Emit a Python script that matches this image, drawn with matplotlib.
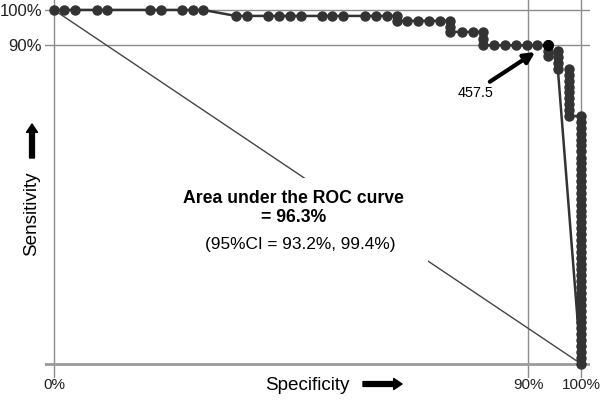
import matplotlib.pyplot as plt
from matplotlib.patches import Rectangle

plt.rcParams['font.family'] = ['Liberation Sans', 'DejaVu Sans']

# ROC curve points (specificity %, sensitivity %), upper part up to the cut-off
upper_spec = [0, 1.9, 4.0, 8.2, 10.1, 18.2, 20.3, 24.3, 26.4, 28.3,
              34.5, 36.6, 40.6, 42.7, 44.8, 46.9, 50.9, 52.8, 54.8, 59.0, 61.1, 63.2, 65.1,
              65.1, 67.0, 69.1, 71.2, 73.3, 75.1,
              75.1, 75.1, 77.4, 79.5, 81.4, 81.4, 81.4,
              83.5, 85.6, 87.7, 89.8, 91.7, 93.7]
upper_sens = [100, 100, 100, 100, 100, 100, 100, 100, 100, 100,
              98.3, 98.3, 98.3, 98.3, 98.3, 98.3, 98.3, 98.3, 98.3, 98.3, 98.3, 98.3, 98.3,
              96.9, 96.9, 96.9, 96.9, 96.9, 96.9,
              95.2, 93.8, 93.8, 93.8, 93.8, 91.9, 90.0,
              90.0, 90.0, 90.0, 90.0, 90.0, 90.0]

# steep drop near 100% specificity
drop_spec = [93.7, 93.7, 95.6, 95.6, 95.6, 95.6]
drop_sens = [88.3, 86.9, 88.3, 86.7, 85.0, 83.3]

col100_spec = 100.0
col100_sens = [0.0, 1.7, 3.3, 5.0, 6.7, 8.3, 10.0, 11.7, 13.3, 15.0, 16.7, 18.3, 20.0,
               21.7, 23.3, 25.0, 26.7, 28.3, 30.0, 31.7, 33.3, 35.0, 36.7, 38.3, 40.0,
               41.7, 43.3, 45.0, 46.7, 48.3, 50.0, 51.7, 53.3, 55.0, 56.7, 58.3, 60.0,
               61.7, 63.3, 65.0, 66.7, 68.3, 70.0]

col977_spec = 97.7
col977_sens = [70.0, 71.7, 73.3, 75.0, 76.7, 78.3, 80.0, 81.7, 83.3]

spec = upper_spec + drop_spec + [col100_spec] * len(col100_sens) + [col977_spec] * len(col977_sens)
sens = upper_sens + drop_sens + col100_sens + col977_sens

# optimal cut-off
cut_spec, cut_sens, cut_label = 93.7, 90.0, '457.5'

# reference (chance) line
diag_x = [0, 100]
diag_y = [100, 0]

xtick_vals = [0, 90, 100]
xtick_labels = ['0%', '90%', '100%']
ytick_vals = [90, 100]
ytick_labels = ['90%', '100%']

W, H = 600, 401
fig = plt.figure(figsize=(W / 100, H / 100), dpi=100)
ax = fig.add_axes([45 / W, 23 / H, 545 / W, 378 / H])
ax.set_xlim(-1.7, 101.7)
ax.set_ylim(-4.0, 102.8)
for s in ax.spines.values():
    s.set_visible(False)

# grid lines
for v in xtick_vals:
    ax.axvline(v, color='#8c8c8c', lw=1, zorder=1)
for h in ytick_vals:
    ax.axhline(h, color='#8c8c8c', lw=1, zorder=1)
ax.axhline(0, color='#9a9a9a', lw=2, zorder=1)

ax.set_xticks(xtick_vals, xtick_labels)
ax.set_yticks(ytick_vals, ytick_labels)
ax.tick_params(axis='x', length=0, labelsize=11, pad=0, labelcolor='#222222')
ax.tick_params(axis='y', length=0, labelsize=12, pad=2, labelcolor='#222222')

ax.plot(diag_x, diag_y, color='#444444', lw=1, zorder=2)

# white box behind the AUC text
ax.add_patch(Rectangle((23, 28.8), 48, 23.7, facecolor='white', edgecolor='none', zorder=3))
ax.text(45.4, 43.9, 'Area under the ROC curve\n= 96.3%', ha='center', va='center',
        fontsize=12.7, fontweight='bold', linespacing=1.15, zorder=4)
ax.text(46.7, 33.6, '(95%CI = 93.2%, 99.4%)', ha='center', va='center',
        fontsize=12.4, zorder=4)

# ROC curve
ax.plot(spec, sens, '-o', color='#333333', lw=1.8, ms=6.5, zorder=5, clip_on=False)
ax.plot([cut_spec], [cut_sens], 'o', color='black', ms=7, zorder=6)

ax.annotate('', xy=(91.3, 88.1), xytext=(82.7, 79.7),
            arrowprops=dict(arrowstyle='-|>', color='black', lw=3, mutation_scale=16,
                            shrinkA=0, shrinkB=0), zorder=6)
ax.text(79.9, 76.6, cut_label, ha='center', va='center', fontsize=10.4)

# axis titles with block arrows
fig.text(307 / W, 1 - 385 / H, 'Specificity', ha='center', va='center', fontsize=13.6)
fig.text(32 / W, 1 - 214 / H, 'Sensitivity', ha='center', va='center', fontsize=13.6,
         rotation=90)
arrow_style = 'simple,head_length=0.6,head_width=0.8,tail_width=0.35'
fig.add_artist(plt.Annotation('', xy=(402 / W, 1 - 384 / H), xytext=(363 / W, 1 - 384 / H),
                              xycoords='figure fraction', textcoords='figure fraction',
                              arrowprops=dict(arrowstyle=arrow_style, color='black',
                                              mutation_scale=10, shrinkA=0, shrinkB=0)))
fig.add_artist(plt.Annotation('', xy=(32 / W, 1 - 124 / H), xytext=(32 / W, 1 - 158 / H),
                              xycoords='figure fraction', textcoords='figure fraction',
                              arrowprops=dict(arrowstyle=arrow_style, color='black',
                                              mutation_scale=10, shrinkA=0, shrinkB=0)))

fig.savefig('out.png', dpi=100)
